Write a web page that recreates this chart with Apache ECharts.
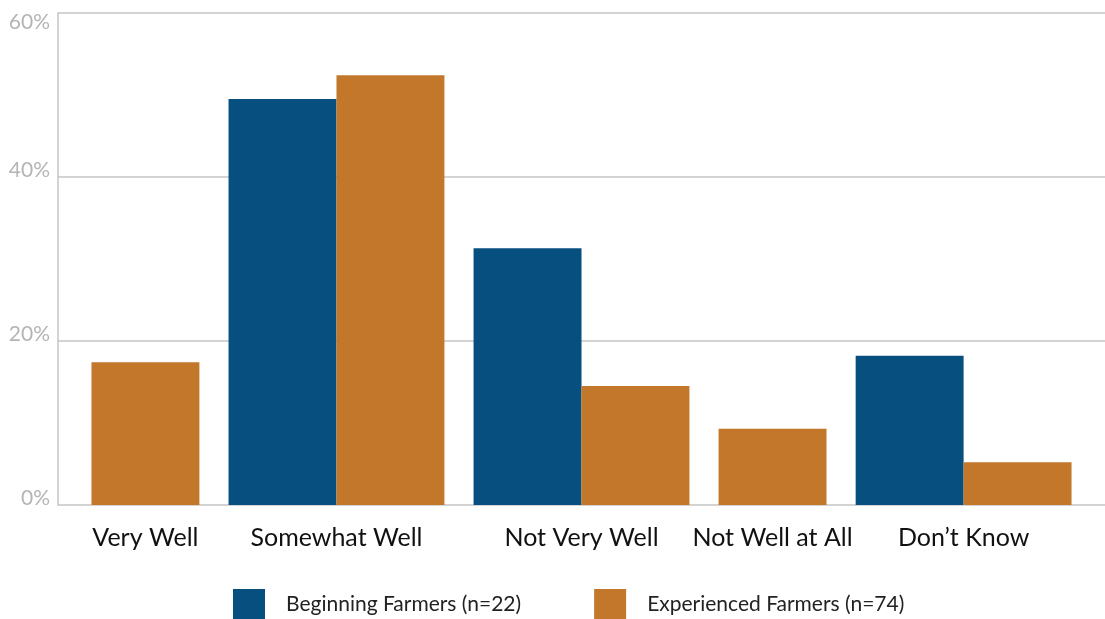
<!DOCTYPE html>
<html>
<head>
<meta charset="utf-8">
<script src="https://cdn.jsdelivr.net/npm/echarts@6/dist/echarts.min.js"></script>
<style>html,body{margin:0;padding:0;background:#fff}#c{width:1105px;height:619px}</style>
</head>
<body>
<div id="c"></div>
<script>
const categories = ['Very Well', 'Somewhat Well', 'Not Very Well', 'Not Well at All', 'Don\u2019t Know'];
const seriesNames = ['Beginning Farmers (n=22)', 'Experienced Farmers (n=74)'];
const beginning = [0, 49.5, 31.3, 0, 18.2];
const experienced = [17.4, 52.4, 14.5, 9.3, 5.2];
const yTicks = [0, 20, 40, 60];

const colors = ['#064f7e', '#c2772b'];
const values = [beginning, experienced];

// layout: each non-zero bar gets one unit; groups are separated by a gap
const PAD = 0.31, GAP = 0.27;
const starts = [[], []];
const centers = [];
let pos = PAD;
categories.forEach((c, i) => {
  const start = pos;
  values.forEach((arr, s) => {
    if (arr[i] > 0) { starts[s][i] = pos; pos += 1; }
  });
  centers[i] = (start + pos) / 2;
  if (i < categories.length - 1) pos += GAP;
});
const total = pos + PAD;

function makeSeries(s) {
  return {
    type: 'custom',
    name: seriesNames[s],
    itemStyle: { color: colors[s] },
    encode: { x: 0, y: 1 },
    data: values[s].map((v, i) => [i, v]),
    renderItem: function (params, api) {
      const i = params.dataIndex;
      const x0 = starts[s][i];
      if (x0 == null) return;
      const v = api.value(1);
      const p0 = api.coord([x0, v]);
      const p1 = api.coord([x0 + 1, 0]);
      return {
        type: 'rect',
        shape: { x: p0[0], y: p0[1], width: p1[0] - p0[0], height: p1[1] - p0[1] },
        style: { fill: colors[s] }
      };
    }
  };
}

const chart = echarts.init(document.getElementById('c'), null, { renderer: 'canvas' });
chart.setOption({
  animation: false,
  backgroundColor: '#ffffff',
  grid: { left: 58, right: 0, top: 13, bottom: 114, containLabel: false },
  legend: {
    left: 233, top: 589, padding: 0,
    itemWidth: 32, itemHeight: 30, itemGap: 73,
    icon: 'rect',
    data: seriesNames,
    textStyle: { fontFamily: 'Lato', fontSize: 21, color: '#222', padding: [0, 0, 0, 16] }
  },
  xAxis: {
    type: 'value',
    min: 0, max: total,
    axisLine: { show: false },
    axisTick: { show: false },
    splitLine: { show: false },
    axisLabel: {
      customValues: centers,
      margin: 20,
      fontFamily: 'Lato', fontSize: 25, color: '#111',
      formatter: function (v) {
        let best = 0, d = Infinity;
        centers.forEach((c, i) => { if (Math.abs(c - v) < d) { d = Math.abs(c - v); best = i; } });
        return categories[best];
      }
    }
  },
  yAxis: {
    type: 'value',
    min: yTicks[0], max: yTicks[yTicks.length - 1], interval: yTicks[1] - yTicks[0],
    axisLine: { show: true, lineStyle: { color: '#c4c4c4', width: 1.5 } },
    axisTick: { show: false },
    splitLine: { show: true, lineStyle: { color: '#c4c4c4', width: 1.5 } },
    axisLabel: {
      margin: 8,
      fontFamily: 'Lato', fontSize: 21, color: '#b5b5b5',
      formatter: function (v) {
        return v === yTicks[yTicks.length - 1] ? '{top|' + v + '%}' : '{low|' + v + '%}';
      },
      rich: {
        top: { fontFamily: 'Lato', fontSize: 21, color: '#b5b5b5', padding: [18, 0, 0, 0] },
        low: { fontFamily: 'Lato', fontSize: 21, color: '#b5b5b5', padding: [0, 0, 14, 0] }
      }
    }
  },
  series: [makeSeries(0), makeSeries(1)]
});
</script>
</body>
</html>
